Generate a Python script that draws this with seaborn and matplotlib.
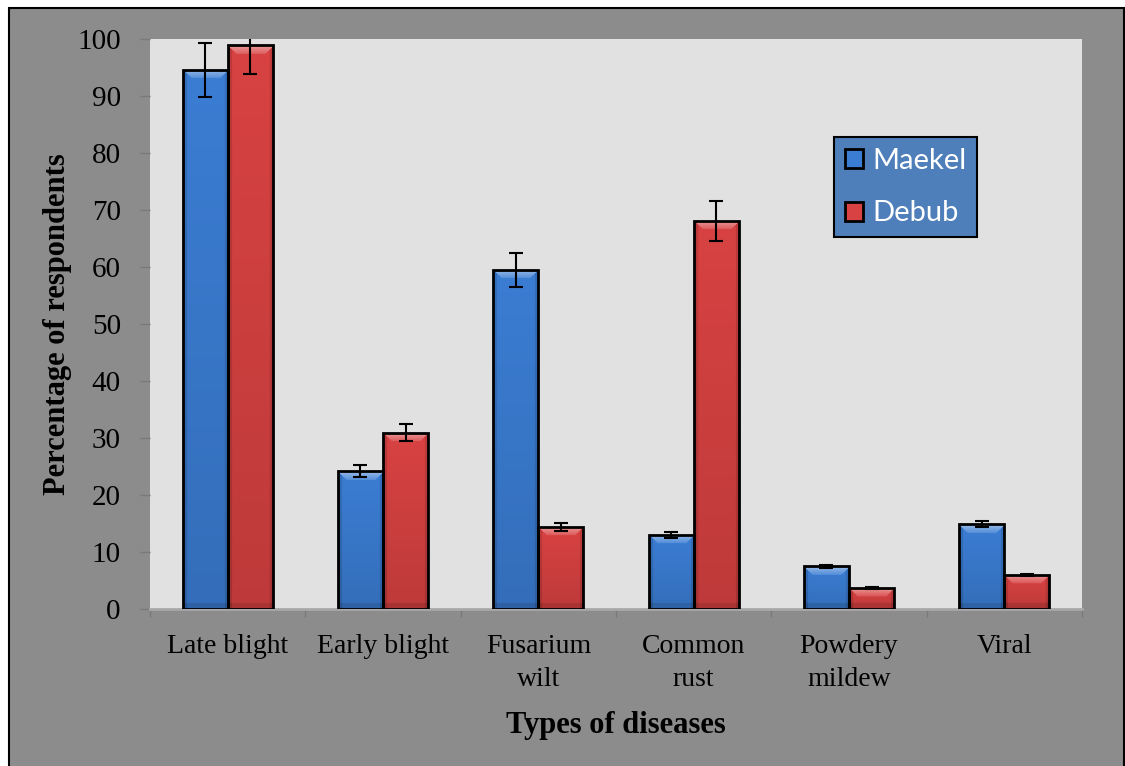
import numpy as np
import pandas as pd
import matplotlib
matplotlib.use("Agg")
import matplotlib.pyplot as plt
import matplotlib.colors as mcolors
from matplotlib.patches import Rectangle, Patch
import seaborn as sns

# ---- data ----
categories = ["Late blight", "Early blight", "Fusarium\nwilt", "Common\nrust", "Powdery\nmildew", "Viral"]
maekel = [94.6, 24.2, 59.5, 13.0, 7.5, 14.9]
debub = [98.9, 30.9, 14.4, 68.1, 3.7, 6.0]
maekel_err = [4.7, 1.1, 3.0, 0.5, 0.3, 0.6]
debub_err = [5.0, 1.5, 0.7, 3.5, 0.2, 0.2]
series = ["Maekel", "Debub"]
yticks = [0, 10, 20, 30, 40, 50, 60, 70, 80, 90, 100]

df = pd.DataFrame({
    "Disease": categories * 2,
    "Region": [series[0]] * len(categories) + [series[1]] * len(categories),
    "Value": maekel + debub,
})

colors = {"Maekel": "#3b7dd3", "Debub": "#d84242"}

sns.set_theme(style="white")
plt.rcParams["font.family"] = ["Liberation Serif", "DejaVu Serif"]
plt.rcParams["text.color"] = "black"
plt.rcParams["axes.labelcolor"] = "black"

W, H = 1125, 766
fig = plt.figure(figsize=(W / 100, H / 100), dpi=100, facecolor="white")
fig.patches.append(Rectangle((9 / W, -0.01), (1124 - 9) / W, (H - 8) / H + 0.01,
                             transform=fig.transFigure, facecolor="#8c8c8c",
                             edgecolor="black", linewidth=1.5, zorder=-10))

ax = fig.add_axes([150 / W, 1 - 609 / H, (1082 - 150) / W, (609 - 39) / H])
ax.set_facecolor("#e1e1e1")

sns.barplot(data=df, x="Disease", y="Value", hue="Region", hue_order=series,
            order=categories, palette=colors, width=0.58, gap=0,
            edgecolor="black", linewidth=2, legend=False, ax=ax, errorbar=None)

ax.set_xlim(-0.5, len(categories) - 0.5)
ax.set_ylim(0, 100)
px_per_unit = (609 - 39) / 100.0


def bar_image(base, hpx, wpx=45):
    hpx = max(int(round(hpx)), 4)
    rgb = np.array(mcolors.to_rgb(base))
    yy = np.arange(hpx)[:, None] * np.ones((1, wpx))  # 0 at top
    xx = np.ones((hpx, 1)) * np.arange(wpx)[None, :]
    f = np.zeros((hpx, wpx))
    f -= 0.12 * (yy / max(hpx - 1, 1))
    bev = 9
    dist_side = np.minimum(xx, wpx - 1 - xx)
    top_mask = (yy < bev) & (dist_side >= yy * 0.9)
    f[top_mask] += 0.35 * (1 - yy[top_mask] / bev) + 0.12
    side_mask = dist_side < 4
    f[side_mask & ~top_mask] -= 0.12
    bot = hpx - 1 - yy
    f[bot < 6] -= 0.1
    img = np.empty((hpx, wpx, 3))
    for k in range(3):
        c = rgb[k]
        img[:, :, k] = np.where(f >= 0, c + (1 - c) * f, c * (1 + f))
    return np.clip(img, 0, 1)


for cont, name in zip(ax.containers, series):
    for patch in cont.patches:
        x0, y0 = patch.get_x(), patch.get_y()
        w, h = patch.get_width(), patch.get_height()
        img = bar_image(colors[name], h * px_per_unit)
        im = ax.imshow(img, extent=[x0, x0 + w, y0, y0 + h], aspect="auto",
                       origin="upper", zorder=2, interpolation="bilinear")
        im.set_clip_path(patch)
        patch.set_facecolor("none")
        patch.set_zorder(3)

# error bars
for cont, vals, errs in zip(ax.containers, [maekel, debub], [maekel_err, debub_err]):
    xs = [p.get_x() + p.get_width() / 2 for p in cont.patches]
    ax.errorbar(xs, vals, yerr=errs, fmt="none", ecolor="black", elinewidth=1.5,
                capsize=5, capthick=1.5, zorder=5, clip_on=True)

ax.set_aspect("auto")
ax.set_xlim(-0.5, len(categories) - 0.5)
ax.set_ylim(0, 100)

for s in ["top", "right", "left"]:
    ax.spines[s].set_visible(False)
ax.spines["bottom"].set_color("#a8a8a8")
ax.spines["bottom"].set_linewidth(2)
ax.spines["bottom"].set_zorder(1)

ax.set_yticks(yticks)
ax.set_yticklabels([str(v) for v in yticks])
ax.tick_params(axis="y", which="major", left=True, length=7, width=1, color="#7a7a7a",
               pad=14, labelsize=21, labelcolor="black")
ax.set_xticks(range(len(categories)))
ax.set_xticklabels(categories, linespacing=1.4)
ax.tick_params(axis="x", which="major", bottom=False, length=0, pad=18, labelsize=20,
               labelcolor="black")
ax.set_xticks(np.arange(-0.5, len(categories)), minor=True)
ax.tick_params(axis="x", which="minor", bottom=True, length=6, width=1, color="#7a7a7a")

ax.set_xlabel("Types of diseases", fontsize=22, fontweight="bold", labelpad=14, color="black")
ax.set_ylabel("Percentage of respondents", fontsize=22, fontweight="bold", labelpad=4, color="black")

handles = [Patch(facecolor=colors[s], edgecolor="black", linewidth=2, label=s) for s in series]
leg = ax.legend(handles=handles, loc="upper left",
                bbox_to_anchor=((834 - 150) / (1082 - 150), (609 - 137) / (609 - 39)),
                borderaxespad=0, frameon=True, fancybox=False, facecolor="#4f7fba",
                edgecolor="black", framealpha=1, handlelength=0.62, handleheight=0.62,
                handletextpad=0.3, labelspacing=0.9, borderpad=0.38,
                prop={"family": "Lato", "size": 21})
leg.get_frame().set_linewidth(1.5)
for t in leg.get_texts():
    t.set_color("white")

fig.savefig("out.png", dpi=100, facecolor=fig.get_facecolor())
